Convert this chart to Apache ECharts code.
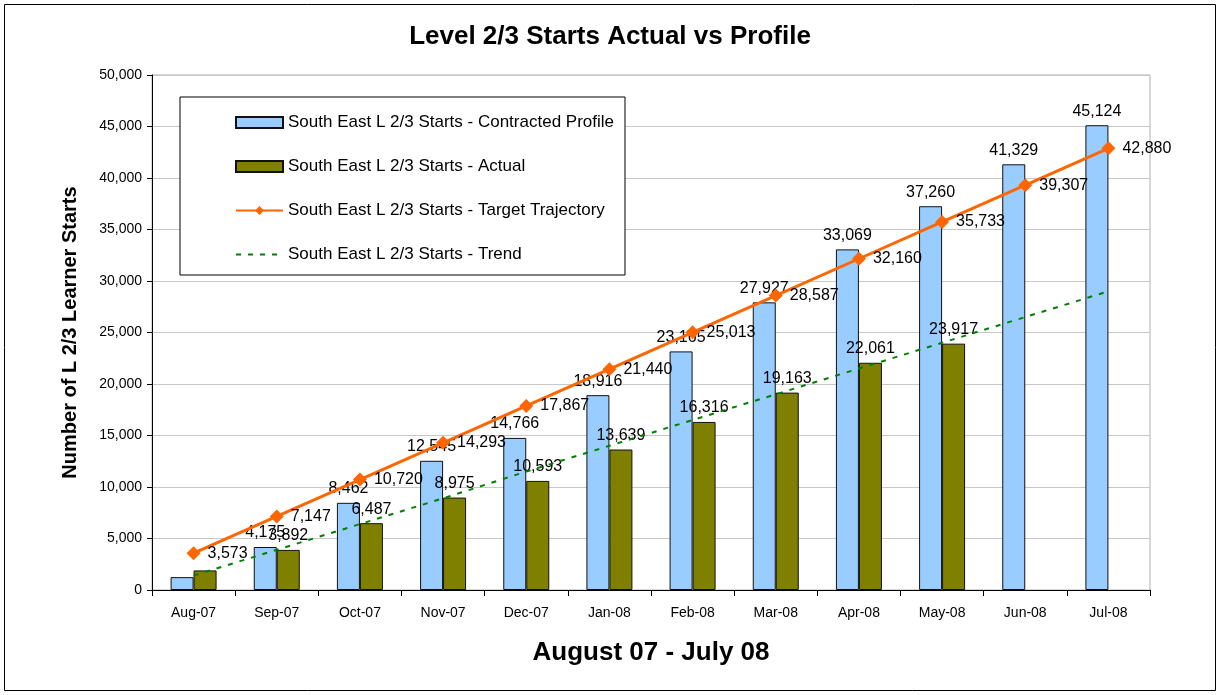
<!DOCTYPE html>
<html>
<head>
<meta charset="utf-8">
<script src="https://cdn.jsdelivr.net/npm/echarts@6/dist/echarts.min.js"></script>
<style>
  html, body { margin: 0; padding: 0; background: #fff; }
  #chart { width: 1220px; height: 695px; }
</style>
</head>
<body>
<div id="chart"></div>
<script>
// months on the x axis
const months = ['Aug-07', 'Sep-07', 'Oct-07', 'Nov-07', 'Dec-07', 'Jan-08',
  'Feb-08', 'Mar-08', 'Apr-08', 'May-08', 'Jun-08', 'Jul-08']

// bar values
const contracted = [1250, 4175, 8462, 12545, 14766, 18916, 23165, 27927, 33069, 37260, 41329, 45124]
const actual = [1900, 3892, 6487, 8975, 10593, 13639, 16316, 19163, 22061, 23917, null, null]

// line values
const target = [3573, 7147, 10720, 14293, 17867, 21440, 25013, 28587, 32160, 35733, 39307, 42880]
const trend = [1400, 3900, 6400, 8900, 11500, 14000, 16500, 19000, 21500, 24000, 26500, 29000]

const font = '"Liberation Sans", Arial, sans-serif'
const fmt = v => v.toLocaleString('en-US')

// first month has no bar labels in the original
const withLabels = arr => arr.map((v, i) => (i === 0 ? { value: v, label: { show: false } } : v))

const chart = echarts.init(document.getElementById('chart'))

chart.setOption({
  animation: false,
  textStyle: { fontFamily: font },
  title: {
    text: 'Level 2/3 Starts Actual vs Profile',
    left: 'center',
    top: 19,
    textStyle: { fontSize: 26, fontWeight: 'bold', color: '#000', fontFamily: font }
  },
  graphic: [
    {
      type: 'rect',
      shape: { x: 4.5, y: 4.5, width: 1211, height: 686 },
      style: { fill: 'none', stroke: '#000', lineWidth: 1 },
      silent: true
    }
  ],
  legend: {
    orient: 'vertical',
    left: 180,
    top: 97,
    padding: [17, 11, 12, 55],
    itemGap: 27,
    itemWidth: 47,
    itemHeight: 11,
    backgroundColor: '#fff',
    borderColor: '#000',
    borderWidth: 1,
    textStyle: { fontSize: 17, color: '#000', fontFamily: font },
    data: [
      { name: 'South East L 2/3 Starts - Contracted Profile', icon: 'rect' },
      { name: 'South East L 2/3 Starts - Actual', icon: 'rect' },
      'South East L 2/3 Starts - Target Trajectory',
      { name: 'South East L 2/3 Starts - Trend', itemStyle: { opacity: 0 } }
    ]
  },
  grid: {
    left: 152,
    right: 70,
    top: 75,
    bottom: 105,
    show: true,
    borderColor: '#b0b0b0',
    borderWidth: 1
  },
  xAxis: {
    type: 'category',
    data: months,
    name: 'August 07 - July 08',
    nameLocation: 'middle',
    nameGap: 50,
    nameTextStyle: { fontSize: 26, fontWeight: 'bold', color: '#000', fontFamily: font },
    axisLine: { lineStyle: { color: '#000', width: 1 } },
    axisTick: { show: true, length: 6, lineStyle: { color: '#000' } },
    axisLabel: { fontSize: 14, color: '#000', margin: 16 }
  },
  yAxis: {
    type: 'value',
    min: 0,
    max: 50000,
    interval: 5000,
    name: 'Number of L 2/3 Learner Starts',
    nameLocation: 'middle',
    nameGap: 72,
    nameTextStyle: { fontSize: 20, fontWeight: 'bold', color: '#000', fontFamily: font },
    axisLine: { show: true, lineStyle: { color: '#000', width: 1 } },
    axisTick: { show: true, length: 5, lineStyle: { color: '#000' } },
    axisLabel: { fontSize: 14, color: '#000', margin: 10, formatter: fmt },
    splitLine: { lineStyle: { color: '#c8c8c8', width: 1 } }
  },
  series: [
    {
      name: 'South East L 2/3 Starts - Contracted Profile',
      type: 'bar',
      barWidth: 23,
      barGap: '0%',
      itemStyle: { color: '#99CCFF', borderColor: '#111', borderWidth: 1 },
      label: {
        show: true,
        position: 'top',
        distance: 6,
        fontSize: 16,
        color: '#000',
        formatter: p => fmt(p.value)
      },
      data: withLabels(contracted)
    },
    {
      name: 'South East L 2/3 Starts - Actual',
      type: 'bar',
      barWidth: 23,
      barGap: '0%',
      itemStyle: { color: '#808000', borderColor: '#111', borderWidth: 1 },
      label: {
        show: true,
        position: 'top',
        distance: 6,
        fontSize: 16,
        color: '#000',
        formatter: p => fmt(p.value)
      },
      data: withLabels(actual)
    },
    {
      name: 'South East L 2/3 Starts - Target Trajectory',
      type: 'line',
      symbol: 'diamond',
      symbolSize: 14,
      itemStyle: { color: '#FF6600' },
      lineStyle: { color: '#FF6600', width: 3 },
      label: {
        show: true,
        position: 'right',
        distance: 7,
        fontSize: 16,
        color: '#000',
        formatter: p => fmt(p.value)
      },
      z: 4,
      data: target
    },
    {
      name: 'South East L 2/3 Starts - Trend',
      type: 'line',
      symbol: 'none',
      itemStyle: { color: '#008000' },
      lineStyle: { color: '#008000', width: 2, type: [5, 7] },
      z: 3,
      data: trend
    }
  ]
})
</script>
</body>
</html>
